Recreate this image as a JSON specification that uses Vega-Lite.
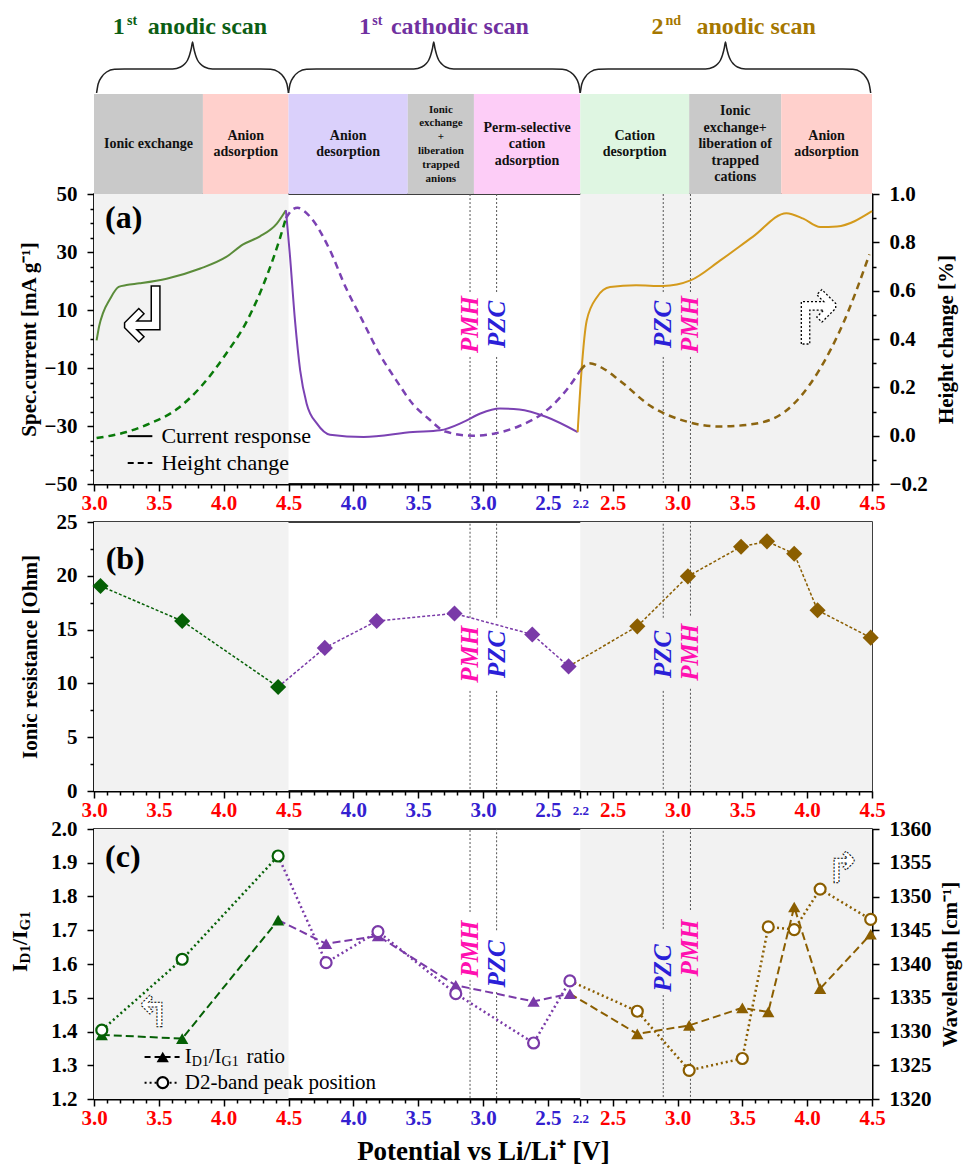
{
"$schema": "https://vega.github.io/schema/vega-lite/v6.json",
"background": "white",
"padding": {"left": 8, "top": 13, "right": 5, "bottom": 3},
"config": {
  "font": "Liberation Serif",
  "view": {"stroke": "#000", "strokeWidth": 1.5},
  "axis": {"grid": false, "domainColor": "#000", "domainWidth": 2, "tickColor": "#000", "tickWidth": 1.5, "tickSize": 7, "labelFont": "Liberation Serif", "labelFontWeight": "bold", "labelFontSize": 21, "labelColor": "#000", "titleFont": "Liberation Serif", "titleFontWeight": "bold", "titleFontSize": 21, "titleColor": "#000", "labelOverlap": false, "labelFlush": false},
  "axisX": {"labelPadding": 1},
  "axisY": {"labelPadding": 10}
},
"datasets": {
  "shade": [{"pos": 0, "pos2": 1.5}, {"pos": 3.75, "pos2": 6}],
  "boxes": [
    {"phase": "p1", "pos": 0, "pos2": 0.84},
    {"phase": "p2", "pos": 0.84, "pos2": 1.5},
    {"phase": "p3", "pos": 1.5, "pos2": 2.42},
    {"phase": "p4", "pos": 2.42, "pos2": 2.93},
    {"phase": "p5", "pos": 2.93, "pos2": 3.75},
    {"phase": "p6", "pos": 3.75, "pos2": 4.59},
    {"phase": "p7", "pos": 4.59, "pos2": 5.3},
    {"phase": "p8", "pos": 5.3, "pos2": 6}
  ],
  "boxtext": [
    {"phase": "p1", "pos": 0.42, "ty": 50, "text": "Ionic exchange"},
    {"phase": "p2", "pos": 1.17, "ty": 58.3, "text": "Anion\nadsorption"},
    {"phase": "p3", "pos": 1.96, "ty": 58.3, "text": "Anion\ndesorption"},
    {"phase": "p4", "pos": 2.675, "ty": 84.5, "text": "Ionic\nexchange\n+\nliberation\ntrapped\nanions"},
    {"phase": "p5", "pos": 3.34, "ty": 66.5, "text": "Perm-selective\ncation\nadsorption"},
    {"phase": "p6", "pos": 4.17, "ty": 58.3, "text": "Cation\ndesorption"},
    {"phase": "p7", "pos": 4.945, "ty": 83, "text": "Ionic\nexchange+\nliberation of\ntrapped\ncations"},
    {"phase": "p8", "pos": 5.65, "ty": 58.3, "text": "Anion\nadsorption"}
  ],
  "titles": [
    {"scan": "a1", "part": "word", "pos": 0.415, "text": "anodic scan"},
    {"scan": "a1", "part": "num", "pos": 0.238, "text": "1"},
    {"scan": "a1", "part": "sup", "pos": 0.254, "text": "st"},
    {"scan": "c1", "part": "word", "pos": 2.29, "text": "cathodic scan"},
    {"scan": "c1", "part": "num", "pos": 2.136, "text": "1"},
    {"scan": "c1", "part": "sup", "pos": 2.146, "text": "st"},
    {"scan": "a2", "part": "word", "pos": 4.646, "text": "anodic scan"},
    {"scan": "a2", "part": "num", "pos": 4.392, "text": "2"},
    {"scan": "a2", "part": "sup", "pos": 4.408, "text": "nd"}
  ],
  "braces": [
    {"scan": "a1", "pos": 0.02, "h": 101}, {"scan": "a1", "pos": 0.032, "h": 110}, {"scan": "a1", "pos": 0.059, "h": 117}, {"scan": "a1", "pos": 0.097, "h": 122}, {"scan": "a1", "pos": 0.158, "h": 124.7}, {"scan": "a1", "pos": 0.235, "h": 125},
    {"scan": "a1", "pos": 0.606, "h": 125}, {"scan": "a1", "pos": 0.668, "h": 127}, {"scan": "a1", "pos": 0.699, "h": 130}, {"scan": "a1", "pos": 0.722, "h": 134}, {"scan": "a1", "pos": 0.737, "h": 139}, {"scan": "a1", "pos": 0.751, "h": 146}, {"scan": "a1", "pos": 0.76, "h": 152},
    {"scan": "a1", "pos": 0.769, "h": 146}, {"scan": "a1", "pos": 0.783, "h": 139}, {"scan": "a1", "pos": 0.798, "h": 134}, {"scan": "a1", "pos": 0.821, "h": 130}, {"scan": "a1", "pos": 0.852, "h": 127}, {"scan": "a1", "pos": 0.914, "h": 125},
    {"scan": "a1", "pos": 1.285, "h": 125}, {"scan": "a1", "pos": 1.362, "h": 124.7}, {"scan": "a1", "pos": 1.423, "h": 122}, {"scan": "a1", "pos": 1.462, "h": 117}, {"scan": "a1", "pos": 1.488, "h": 110}, {"scan": "a1", "pos": 1.5, "h": 101},
    {"scan": "c1", "pos": 1.5, "h": 101}, {"scan": "c1", "pos": 1.512, "h": 110}, {"scan": "c1", "pos": 1.539, "h": 117}, {"scan": "c1", "pos": 1.577, "h": 122}, {"scan": "c1", "pos": 1.639, "h": 124.7}, {"scan": "c1", "pos": 1.715, "h": 125},
    {"scan": "c1", "pos": 2.466, "h": 125}, {"scan": "c1", "pos": 2.528, "h": 127}, {"scan": "c1", "pos": 2.559, "h": 130}, {"scan": "c1", "pos": 2.582, "h": 134}, {"scan": "c1", "pos": 2.597, "h": 139}, {"scan": "c1", "pos": 2.611, "h": 146}, {"scan": "c1", "pos": 2.62, "h": 152},
    {"scan": "c1", "pos": 2.629, "h": 146}, {"scan": "c1", "pos": 2.643, "h": 139}, {"scan": "c1", "pos": 2.658, "h": 134}, {"scan": "c1", "pos": 2.682, "h": 130}, {"scan": "c1", "pos": 2.712, "h": 127}, {"scan": "c1", "pos": 2.774, "h": 125},
    {"scan": "c1", "pos": 3.535, "h": 125}, {"scan": "c1", "pos": 3.612, "h": 124.7}, {"scan": "c1", "pos": 3.673, "h": 122}, {"scan": "c1", "pos": 3.712, "h": 117}, {"scan": "c1", "pos": 3.738, "h": 110}, {"scan": "c1", "pos": 3.75, "h": 101},
    {"scan": "a2", "pos": 3.75, "h": 101}, {"scan": "a2", "pos": 3.762, "h": 110}, {"scan": "a2", "pos": 3.789, "h": 117}, {"scan": "a2", "pos": 3.827, "h": 122}, {"scan": "a2", "pos": 3.889, "h": 124.7}, {"scan": "a2", "pos": 3.965, "h": 125},
    {"scan": "a2", "pos": 4.716, "h": 125}, {"scan": "a2", "pos": 4.778, "h": 127}, {"scan": "a2", "pos": 4.809, "h": 130}, {"scan": "a2", "pos": 4.832, "h": 134}, {"scan": "a2", "pos": 4.847, "h": 139}, {"scan": "a2", "pos": 4.861, "h": 146}, {"scan": "a2", "pos": 4.87, "h": 152},
    {"scan": "a2", "pos": 4.879, "h": 146}, {"scan": "a2", "pos": 4.893, "h": 139}, {"scan": "a2", "pos": 4.909, "h": 134}, {"scan": "a2", "pos": 4.932, "h": 130}, {"scan": "a2", "pos": 4.962, "h": 127}, {"scan": "a2", "pos": 5.024, "h": 125},
    {"scan": "a2", "pos": 5.775, "h": 125}, {"scan": "a2", "pos": 5.852, "h": 124.7}, {"scan": "a2", "pos": 5.913, "h": 122}, {"scan": "a2", "pos": 5.952, "h": 117}, {"scan": "a2", "pos": 5.978, "h": 110}, {"scan": "a2", "pos": 5.99, "h": 101}
  ],
  "current": [
    {"seg": "a1", "pos": 0.02, "val": -0.5}, {"seg": "a1", "pos": 0.04, "val": 4.5}, {"seg": "a1", "pos": 0.07, "val": 9.0}, {"seg": "a1", "pos": 0.12, "val": 13.5}, {"seg": "a1", "pos": 0.19, "val": 18.0}, {"seg": "a1", "pos": 0.25, "val": 18.6}, {"seg": "a1", "pos": 0.35, "val": 19.2}, {"seg": "a1", "pos": 0.56, "val": 20.8}, {"seg": "a1", "pos": 0.82, "val": 24.3}, {"seg": "a1", "pos": 1.02, "val": 28.3}, {"seg": "a1", "pos": 1.15, "val": 32.6}, {"seg": "a1", "pos": 1.28, "val": 35.4}, {"seg": "a1", "pos": 1.41, "val": 39.8}, {"seg": "a1", "pos": 1.48, "val": 44.4},
    {"seg": "c1", "pos": 1.48, "val": 44.4}, {"seg": "c1", "pos": 1.51, "val": 29.4}, {"seg": "c1", "pos": 1.55, "val": 6.4}, {"seg": "c1", "pos": 1.59, "val": -10.8}, {"seg": "c1", "pos": 1.64, "val": -22.3}, {"seg": "c1", "pos": 1.72, "val": -29.2}, {"seg": "c1", "pos": 1.82, "val": -33.0}, {"seg": "c1", "pos": 2.08, "val": -33.8}, {"seg": "c1", "pos": 2.46, "val": -32.1}, {"seg": "c1", "pos": 2.67, "val": -31.5}, {"seg": "c1", "pos": 2.85, "val": -28.6}, {"seg": "c1", "pos": 2.98, "val": -25.7}, {"seg": "c1", "pos": 3.13, "val": -24.0}, {"seg": "c1", "pos": 3.28, "val": -24.3}, {"seg": "c1", "pos": 3.49, "val": -26.9}, {"seg": "c1", "pos": 3.73, "val": -32.1},
    {"seg": "a2", "pos": 3.73, "val": -32.1}, {"seg": "a2", "pos": 3.76, "val": -10.8}, {"seg": "a2", "pos": 3.8, "val": 6.4}, {"seg": "a2", "pos": 3.88, "val": 14.5}, {"seg": "a2", "pos": 3.98, "val": 17.9}, {"seg": "a2", "pos": 4.18, "val": 18.5}, {"seg": "a2", "pos": 4.39, "val": 18.3}, {"seg": "a2", "pos": 4.6, "val": 20.2}, {"seg": "a2", "pos": 4.83, "val": 27.1}, {"seg": "a2", "pos": 5.08, "val": 35.2}, {"seg": "a2", "pos": 5.34, "val": 43.4}, {"seg": "a2", "pos": 5.47, "val": 41.5}, {"seg": "a2", "pos": 5.6, "val": 38.6}, {"seg": "a2", "pos": 5.73, "val": 38.8}, {"seg": "a2", "pos": 6.0, "val": 44.1}
  ],
  "height": [
    {"seg": "a1", "pos": 0.02, "val": -0.01}, {"seg": "a1", "pos": 0.25, "val": 0.015}, {"seg": "a1", "pos": 0.43, "val": 0.05}, {"seg": "a1", "pos": 0.64, "val": 0.11}, {"seg": "a1", "pos": 0.82, "val": 0.2}, {"seg": "a1", "pos": 1.02, "val": 0.34}, {"seg": "a1", "pos": 1.18, "val": 0.475}, {"seg": "a1", "pos": 1.33, "val": 0.657}, {"seg": "a1", "pos": 1.43, "val": 0.81}, {"seg": "a1", "pos": 1.48, "val": 0.9},
    {"seg": "c1", "pos": 1.48, "val": 0.9}, {"seg": "c1", "pos": 1.53, "val": 0.935}, {"seg": "c1", "pos": 1.57, "val": 0.943}, {"seg": "c1", "pos": 1.62, "val": 0.93}, {"seg": "c1", "pos": 1.69, "val": 0.89}, {"seg": "c1", "pos": 1.82, "val": 0.767}, {"seg": "c1", "pos": 1.94, "val": 0.615}, {"seg": "c1", "pos": 2.07, "val": 0.477}, {"seg": "c1", "pos": 2.2, "val": 0.34}, {"seg": "c1", "pos": 2.33, "val": 0.23}, {"seg": "c1", "pos": 2.46, "val": 0.13}, {"seg": "c1", "pos": 2.58, "val": 0.07}, {"seg": "c1", "pos": 2.71, "val": 0.017}, {"seg": "c1", "pos": 2.92, "val": 0.0}, {"seg": "c1", "pos": 3.1, "val": 0.01}, {"seg": "c1", "pos": 3.28, "val": 0.04}, {"seg": "c1", "pos": 3.48, "val": 0.1}, {"seg": "c1", "pos": 3.66, "val": 0.2}, {"seg": "c1", "pos": 3.75, "val": 0.27},
    {"seg": "a2", "pos": 3.75, "val": 0.27}, {"seg": "a2", "pos": 3.82, "val": 0.3}, {"seg": "a2", "pos": 3.92, "val": 0.28}, {"seg": "a2", "pos": 4.05, "val": 0.23}, {"seg": "a2", "pos": 4.3, "val": 0.12}, {"seg": "a2", "pos": 4.56, "val": 0.06}, {"seg": "a2", "pos": 4.82, "val": 0.038}, {"seg": "a2", "pos": 5.07, "val": 0.047}, {"seg": "a2", "pos": 5.33, "val": 0.1}, {"seg": "a2", "pos": 5.58, "val": 0.26}, {"seg": "a2", "pos": 5.79, "val": 0.48}, {"seg": "a2", "pos": 5.98, "val": 0.75}
  ],
  "resist": [
    {"seg": "a1", "pos": 0.05, "val": 19.05}, {"seg": "a1", "pos": 0.68, "val": 15.8}, {"seg": "a1", "pos": 1.42, "val": 9.67},
    {"seg": "c1", "pos": 1.42, "val": 9.67, "link": true}, {"seg": "c1", "pos": 1.78, "val": 13.3}, {"seg": "c1", "pos": 2.18, "val": 15.8}, {"seg": "c1", "pos": 2.78, "val": 16.5}, {"seg": "c1", "pos": 3.38, "val": 14.55}, {"seg": "c1", "pos": 3.66, "val": 11.58},
    {"seg": "a2", "pos": 3.66, "val": 11.58, "link": true}, {"seg": "a2", "pos": 4.19, "val": 15.3}, {"seg": "a2", "pos": 4.58, "val": 19.95}, {"seg": "a2", "pos": 4.99, "val": 22.7}, {"seg": "a2", "pos": 5.19, "val": 23.2}, {"seg": "a2", "pos": 5.4, "val": 22.05}, {"seg": "a2", "pos": 5.58, "val": 16.8}, {"seg": "a2", "pos": 5.99, "val": 14.25}
  ],
  "ratio": [
    {"seg": "a1", "pos": 0.06, "val": 1.39}, {"seg": "a1", "pos": 0.68, "val": 1.379}, {"seg": "a1", "pos": 1.42, "val": 1.73},
    {"seg": "c1", "pos": 1.42, "val": 1.73, "link": true}, {"seg": "c1", "pos": 1.79, "val": 1.66}, {"seg": "c1", "pos": 2.19, "val": 1.683}, {"seg": "c1", "pos": 2.79, "val": 1.537}, {"seg": "c1", "pos": 3.39, "val": 1.489}, {"seg": "c1", "pos": 3.67, "val": 1.512},
    {"seg": "a2", "pos": 3.67, "val": 1.512, "link": true}, {"seg": "a2", "pos": 4.19, "val": 1.393}, {"seg": "a2", "pos": 4.59, "val": 1.418}, {"seg": "a2", "pos": 5.0, "val": 1.47}, {"seg": "a2", "pos": 5.2, "val": 1.458}, {"seg": "a2", "pos": 5.4, "val": 1.769}, {"seg": "a2", "pos": 5.6, "val": 1.527}, {"seg": "a2", "pos": 5.99, "val": 1.688}
  ],
  "wave": [
    {"seg": "a1", "pos": 0.06, "val": 1330.2}, {"seg": "a1", "pos": 0.68, "val": 1340.7}, {"seg": "a1", "pos": 1.42, "val": 1356},
    {"seg": "c1", "pos": 1.42, "val": 1356, "link": true}, {"seg": "c1", "pos": 1.79, "val": 1340.2}, {"seg": "c1", "pos": 2.19, "val": 1344.8}, {"seg": "c1", "pos": 2.79, "val": 1335.6}, {"seg": "c1", "pos": 3.39, "val": 1328.3}, {"seg": "c1", "pos": 3.67, "val": 1337.5},
    {"seg": "a2", "pos": 3.67, "val": 1337.5, "link": true}, {"seg": "a2", "pos": 4.19, "val": 1333.0}, {"seg": "a2", "pos": 4.59, "val": 1324.25}, {"seg": "a2", "pos": 5.0, "val": 1326}, {"seg": "a2", "pos": 5.2, "val": 1345.5}, {"seg": "a2", "pos": 5.4, "val": 1345.1}, {"seg": "a2", "pos": 5.6, "val": 1351.1}, {"seg": "a2", "pos": 5.99, "val": 1346.6}
  ],
  "markers": [
    {"panel": "a", "label": "PMH", "pos": 2.9, "mid": 5, "top": 16.2, "bot": -6.2},
    {"panel": "a", "label": "PZC", "pos": 3.105, "mid": 5, "top": 16.2, "bot": -6.2},
    {"panel": "a", "label": "PZC", "pos": 4.39, "mid": 5, "top": 16.2, "bot": -6.2},
    {"panel": "a", "label": "PMH", "pos": 4.6, "mid": 5, "top": 16.2, "bot": -6.2},
    {"panel": "b", "label": "PMH", "pos": 2.9, "mid": 12.7, "top": 16.1, "bot": 9.3},
    {"panel": "b", "label": "PZC", "pos": 3.105, "mid": 12.7, "top": 16.1, "bot": 9.3},
    {"panel": "b", "label": "PZC", "pos": 4.39, "mid": 12.7, "top": 16.1, "bot": 9.3},
    {"panel": "b", "label": "PMH", "pos": 4.6, "mid": 12.9, "top": 16.3, "bot": 9.5},
    {"panel": "c", "label": "PMH", "pos": 2.9, "mid": 1.644, "top": 1.754, "bot": 1.553},
    {"panel": "c", "label": "PZC", "pos": 3.105, "mid": 1.6, "top": 1.7, "bot": 1.517},
    {"panel": "c", "label": "PZC", "pos": 4.39, "mid": 1.588, "top": 1.704, "bot": 1.508},
    {"panel": "c", "label": "PMH", "pos": 4.6, "mid": 1.647, "top": 1.76, "bot": 1.556}
  ],
  "plabels": [
    {"panel": "a", "pos": 0.085, "val": 41.7, "text": "(a)"},
    {"panel": "b", "pos": 0.09, "val": 21.6, "text": "(b)"},
    {"panel": "c", "pos": 0.085, "val": 1.917, "text": "(c)"}
  ],
  "arrows": [
    {"panel": "a", "pos": 0.377, "val": 7.2, "glyph": "↲"},
    {"panel": "a", "pos": 5.58, "val": 5.9, "glyph": "↱"},
    {"panel": "c", "pos": 0.45, "val": 1.452, "glyph": "↰"},
    {"panel": "c", "pos": 5.78, "val": 1.878, "glyph": "↱"}
  ],
  "legA": [
    {"role": "line", "kind": "cur", "pos": 0.26, "pos2": 0.45, "val": -33.5},
    {"role": "line", "kind": "hgt", "pos": 0.26, "pos2": 0.45, "val": -42.8},
    {"role": "text", "pos": 0.52, "val": -33.5, "t": "Current response"},
    {"role": "text", "pos": 0.52, "val": -42.8, "t": "Height change"}
  ],
  "legC": [
    {"role": "line", "kind": "ratio", "pos": 0.39, "pos2": 0.66, "val": 1.3244},
    {"role": "line", "kind": "wave", "pos": 0.39, "pos2": 0.66, "val": 1.2483},
    {"role": "sym", "kind": "ratio", "pos": 0.53, "val": 1.3244},
    {"role": "sym", "kind": "wave", "pos": 0.53, "val": 1.2483},
    {"role": "main", "pos": 0.7, "val": 1.3244, "t": "I"},
    {"role": "sub", "pos": 0.754, "val": 1.3244, "t": "D1"},
    {"role": "main", "pos": 0.885, "val": 1.3244, "t": "/I"},
    {"role": "sub", "pos": 0.984, "val": 1.3244, "t": "G1"},
    {"role": "main", "pos": 1.177, "val": 1.3244, "t": "ratio"},
    {"role": "main", "pos": 0.7, "val": 1.2483, "t": "D2-band peak position"}
  ],
  "ytitleC": [
    {"role": "main", "pos": -0.515, "val": 1.5763, "t": "I"},
    {"role": "sub", "pos": -0.515, "val": 1.6018, "t": "D1"},
    {"role": "main", "pos": -0.515, "val": 1.656, "t": "/I"},
    {"role": "sub", "pos": -0.515, "val": 1.6996, "t": "G1"}
  ]
},
"spacing": -4,
"vconcat": [
  {
    "width": 778,
    "height": 290,
    "encoding": {"x": {"field": "pos", "type": "quantitative", "scale": {"domain": [0, 6], "nice": false, "zero": false},
      "axis": {"title": null, "values": [0,0.1,0.2,0.3,0.4,0.5,0.6,0.7,0.8,0.9,1,1.1,1.2,1.3,1.4,1.5,1.6,1.7,1.8,1.9,2,2.1,2.2,2.3,2.4,2.5,2.6,2.7,2.8,2.9,3,3.1,3.2,3.3,3.4,3.5,3.6,3.7,3.75,3.8,3.9,4,4.1,4.2,4.3,4.4,4.5,4.6,4.7,4.8,4.9,5,5.1,5.2,5.3,5.4,5.5,5.6,5.7,5.8,5.9,6],
        "labelExpr": "(datum.value*2)%1 > 0.01 && datum.value != 3.75 ? '' : datum.value == 3.75 ? '2.2' : datum.value <= 1.5 ? format(3 + datum.value, '.1f') : datum.value <= 3.5 ? format(6 - datum.value, '.1f') : format(datum.value - 1.5, '.1f')",
        "labelColor": {"condition": {"test": "datum.value > 1.6 && datum.value < 3.9", "value": "#3420d0"}, "value": "#ff0000"},
        "labelFontSize": {"condition": {"test": "datum.value == 3.75", "value": 13}, "value": 21},
        "labelPadding": {"condition": {"test": "datum.value == 3.75", "value": 6}, "value": 1},
        "tickSize": {"condition": {"test": "(datum.value*2)%1 > 0.01 && datum.value != 3.75", "value": 4}, "value": 7}}}},
    "layer": [
      {"data": {"name": "shade"}, "mark": {"type": "rect", "color": "#f2f2f2"}, "encoding": {"x2": {"field": "pos2"}}},
      {"data": {"name": "boxes"}, "mark": {"type": "rect"},
       "encoding": {
         "x2": {"field": "pos2"},
         "y": {"datum": 0, "type": "quantitative", "scale": {"domain": [-290, 0], "nice": false, "zero": false}, "axis": null},
         "y2": {"datum": 100},
         "color": {"field": "phase", "type": "nominal", "scale": {"domain": ["p1","p2","p3","p4","p5","p6","p7","p8"], "range": ["#c9c9c9","#ffd0cc","#dad0fb","#c9c9c9","#fdcdf7","#dff6e2","#c9c9c9","#ffd0cc"]}, "legend": null}
       }},
      {"data": {"name": "boxtext"}, "transform": [{"filter": "datum.phase != 'p4'"}],
       "mark": {"type": "text", "font": "Liberation Serif", "fontSize": 14, "fontWeight": "bold", "color": "#111", "lineBreak": "\n", "lineHeight": 16.5, "align": "center", "baseline": "middle"},
       "encoding": {
         "y": {"field": "ty", "type": "quantitative", "scale": {"domain": [-290, 0], "nice": false, "zero": false}, "axis": null},
         "text": {"field": "text"}
       }},
      {"data": {"name": "boxtext"}, "transform": [{"filter": "datum.phase == 'p4'"}],
       "mark": {"type": "text", "font": "Liberation Serif", "fontSize": 11, "fontWeight": "bold", "color": "#111", "lineBreak": "\n", "lineHeight": 13.8, "align": "center", "baseline": "middle"},
       "encoding": {
         "y": {"field": "ty", "type": "quantitative", "scale": {"domain": [-290, 0], "nice": false, "zero": false}, "axis": null},
         "text": {"field": "text"}
       }},
      {"data": {"name": "braces"}, "mark": {"type": "line", "color": "#222", "strokeWidth": 1.5, "interpolate": "monotone"},
       "encoding": {
         "y": {"field": "h", "type": "quantitative", "scale": {"domain": [-290, 0], "nice": false, "zero": false}, "axis": null},
         "detail": {"field": "scan"}
       }},
      {"data": {"name": "titles"}, "transform": [{"filter": "datum.part == 'word'"}],
       "mark": {"type": "text", "font": "Liberation Serif", "fontSize": 24, "fontWeight": "bold", "align": "left", "baseline": "middle"},
       "encoding": {
         "y": {"datum": 167, "type": "quantitative", "scale": {"domain": [-290, 0], "nice": false, "zero": false}, "axis": null},
         "text": {"field": "text"},
         "color": {"field": "scan", "type": "nominal", "scale": {"domain": ["a1","c1","a2"], "range": ["#0c5e14","#7030a0","#a57700"]}, "legend": null}
       }},
      {"data": {"name": "titles"}, "transform": [{"filter": "datum.part == 'num'"}],
       "mark": {"type": "text", "font": "Liberation Serif", "fontSize": 24, "fontWeight": "bold", "align": "right", "baseline": "middle"},
       "encoding": {
         "y": {"datum": 167, "type": "quantitative", "scale": {"domain": [-290, 0], "nice": false, "zero": false}, "axis": null},
         "text": {"field": "text"},
         "color": {"field": "scan", "type": "nominal", "scale": {"domain": ["a1","c1","a2"], "range": ["#0c5e14","#7030a0","#a57700"]}, "legend": null}
       }},
      {"data": {"name": "titles"}, "transform": [{"filter": "datum.part == 'sup'"}],
       "mark": {"type": "text", "font": "Liberation Serif", "fontSize": 14, "fontWeight": "bold", "align": "left", "baseline": "middle"},
       "encoding": {
         "y": {"datum": 173, "type": "quantitative", "scale": {"domain": [-290, 0], "nice": false, "zero": false}, "axis": null},
         "text": {"field": "text"},
         "color": {"field": "scan", "type": "nominal", "scale": {"domain": ["a1","c1","a2"], "range": ["#0c5e14","#7030a0","#a57700"]}, "legend": null}
       }},
      {"data": {"name": "markers"}, "transform": [{"filter": "datum.panel == 'a'"}],
       "mark": {"type": "rule", "color": "#555", "strokeDash": [2, 2], "strokeWidth": 1},
       "encoding": {"y": {"field": "top", "type": "quantitative", "scale": {"domain": [-50, 50]}, "axis": null}, "y2": {"datum": 50}}},
      {"data": {"name": "markers"}, "transform": [{"filter": "datum.panel == 'a'"}],
       "mark": {"type": "rule", "color": "#555", "strokeDash": [2, 2], "strokeWidth": 1},
       "encoding": {"y": {"field": "bot", "type": "quantitative", "scale": {"domain": [-50, 50]}, "axis": null}, "y2": {"datum": -50}}},
      {"data": {"name": "markers"}, "transform": [{"filter": "datum.panel == 'a'"}],
       "mark": {"type": "text", "angle": 270, "font": "Liberation Serif", "fontSize": 25, "fontWeight": "bold", "fontStyle": "italic", "align": "center", "baseline": "middle"},
       "encoding": {"y": {"field": "mid", "type": "quantitative", "scale": {"domain": [-50, 50]}, "axis": null}, "text": {"field": "label"},
         "color": {"condition": {"test": "datum.label == 'PMH'", "value": "#ff10b0"}, "value": "#2a1fd8"}}},
      {"data": {"name": "current"}, "mark": {"type": "line", "strokeWidth": 2, "interpolate": "monotone"},
       "encoding": {
         "y": {"field": "val", "type": "quantitative", "scale": {"domain": [-50, 50]},
           "axis": {"title": "Spec.current [mA g⁻¹]", "titlePadding": 5, "values": [-50,-45,-40,-35,-30,-25,-20,-15,-10,-5,0,5,10,15,20,25,30,35,40,45,50],
             "labelExpr": "(datum.value + 50) % 20 == 0 ? datum.label : ''",
             "tickSize": {"condition": {"test": "(datum.value + 50) % 20 != 0", "value": 4}, "value": 7}}},
         "color": {"field": "seg", "type": "nominal", "scale": {"domain": ["a1","c1","a2"], "range": ["#5b8c3a","#7b42b3","#d49a1c"]}, "legend": null}
       }},
      {"data": {"name": "height"}, "mark": {"type": "line", "strokeWidth": 2.5, "strokeDash": [7, 5], "interpolate": "monotone"},
       "encoding": {
         "y": {"field": "val", "type": "quantitative", "scale": {"domain": [-0.2, 1.0]},
           "axis": {"orient": "right", "title": "Height change [%]", "titleAngle": 270, "titleBaseline": "top", "titlePadding": 8,
             "values": [-0.2,-0.1,0,0.1,0.2,0.3,0.4,0.5,0.6,0.7,0.8,0.9,1],
             "labelExpr": "abs(round(datum.value*10)) % 2 == 0 ? format(datum.value, '.1f') : ''",
             "tickSize": {"condition": {"test": "abs(round(datum.value*10)) % 2 == 1", "value": 4}, "value": 7}}},
         "color": {"field": "seg", "type": "nominal", "scale": {"domain": ["a1","c1","a2"], "range": ["#0a7a0a","#7b42b3","#8c6510"]}, "legend": null}
       }},
      {"data": {"name": "legA"}, "transform": [{"filter": "datum.kind == 'cur'"}],
       "mark": {"type": "rule", "color": "#000", "strokeWidth": 2},
       "encoding": {"x2": {"field": "pos2"}, "y": {"field": "val", "type": "quantitative", "scale": {"domain": [-50, 50]}, "axis": null}}},
      {"data": {"name": "legA"}, "transform": [{"filter": "datum.kind == 'hgt'"}],
       "mark": {"type": "rule", "color": "#000", "strokeWidth": 2, "strokeDash": [6, 4]},
       "encoding": {"x2": {"field": "pos2"}, "y": {"field": "val", "type": "quantitative", "scale": {"domain": [-50, 50]}, "axis": null}}},
      {"data": {"name": "legA"}, "transform": [{"filter": "datum.role == 'text'"}],
       "mark": {"type": "text", "font": "Liberation Serif", "fontSize": 22, "color": "#000", "align": "left", "baseline": "middle"},
       "encoding": {"y": {"field": "val", "type": "quantitative", "scale": {"domain": [-50, 50]}, "axis": null}, "text": {"field": "t"}}},
      {"data": {"name": "plabels"}, "transform": [{"filter": "datum.panel == 'a'"}],
       "mark": {"type": "text", "font": "Liberation Serif", "fontSize": 32, "fontWeight": "bold", "color": "#000", "align": "left", "baseline": "middle"},
       "encoding": {"y": {"field": "val", "type": "quantitative", "scale": {"domain": [-50, 50]}, "axis": null}, "text": {"field": "text"}}},
      {"data": {"name": "arrows"}, "transform": [{"filter": "datum.panel == 'a' && datum.glyph == '↲'"}],
       "mark": {"type": "text", "font": "DejaVu Sans", "fontSize": 74, "fontWeight": "bold", "fill": "white", "stroke": "#000", "strokeWidth": 1.5, "align": "center", "baseline": "middle"},
       "encoding": {"y": {"field": "val", "type": "quantitative", "scale": {"domain": [-50, 50]}, "axis": null}, "text": {"field": "glyph"}}},
      {"data": {"name": "arrows"}, "transform": [{"filter": "datum.panel == 'a' && datum.glyph == '↱'"}],
       "mark": {"type": "text", "font": "DejaVu Sans", "fontSize": 72, "fontWeight": "bold", "fill": "white", "stroke": "#000", "strokeWidth": 1.3, "strokeDash": [2, 2], "align": "center", "baseline": "middle"},
       "encoding": {"y": {"field": "val", "type": "quantitative", "scale": {"domain": [-50, 50]}, "axis": null}, "text": {"field": "glyph"}}}
    ],
    "resolve": {"scale": {"y": "independent", "color": "independent"}}
  },
  {
    "width": 778,
    "height": 269,
    "encoding": {"x": {"field": "pos", "type": "quantitative", "scale": {"domain": [0, 6], "nice": false, "zero": false},
      "axis": {"title": null, "values": [0,0.1,0.2,0.3,0.4,0.5,0.6,0.7,0.8,0.9,1,1.1,1.2,1.3,1.4,1.5,1.6,1.7,1.8,1.9,2,2.1,2.2,2.3,2.4,2.5,2.6,2.7,2.8,2.9,3,3.1,3.2,3.3,3.4,3.5,3.6,3.7,3.75,3.8,3.9,4,4.1,4.2,4.3,4.4,4.5,4.6,4.7,4.8,4.9,5,5.1,5.2,5.3,5.4,5.5,5.6,5.7,5.8,5.9,6],
        "labelExpr": "(datum.value*2)%1 > 0.01 && datum.value != 3.75 ? '' : datum.value == 3.75 ? '2.2' : datum.value <= 1.5 ? format(3 + datum.value, '.1f') : datum.value <= 3.5 ? format(6 - datum.value, '.1f') : format(datum.value - 1.5, '.1f')",
        "labelColor": {"condition": {"test": "datum.value > 1.6 && datum.value < 3.9", "value": "#3420d0"}, "value": "#ff0000"},
        "labelFontSize": {"condition": {"test": "datum.value == 3.75", "value": 13}, "value": 21},
        "labelPadding": {"condition": {"test": "datum.value == 3.75", "value": 6}, "value": 1},
        "tickSize": {"condition": {"test": "(datum.value*2)%1 > 0.01 && datum.value != 3.75", "value": 4}, "value": 7}}}},
    "layer": [
      {"data": {"name": "shade"}, "mark": {"type": "rect", "color": "#f2f2f2"}, "encoding": {"x2": {"field": "pos2"}}},
      {"data": {"name": "markers"}, "transform": [{"filter": "datum.panel == 'b'"}],
       "mark": {"type": "rule", "color": "#555", "strokeDash": [2, 2], "strokeWidth": 1},
       "encoding": {"y": {"field": "top", "type": "quantitative", "scale": {"domain": [0, 25]}, "axis": null}, "y2": {"datum": 25}}},
      {"data": {"name": "markers"}, "transform": [{"filter": "datum.panel == 'b'"}],
       "mark": {"type": "rule", "color": "#555", "strokeDash": [2, 2], "strokeWidth": 1},
       "encoding": {"y": {"field": "bot", "type": "quantitative", "scale": {"domain": [0, 25]}, "axis": null}, "y2": {"datum": 0}}},
      {"data": {"name": "markers"}, "transform": [{"filter": "datum.panel == 'b'"}],
       "mark": {"type": "text", "angle": 270, "font": "Liberation Serif", "fontSize": 25, "fontWeight": "bold", "fontStyle": "italic", "align": "center", "baseline": "middle"},
       "encoding": {"y": {"field": "mid", "type": "quantitative", "scale": {"domain": [0, 25]}, "axis": null}, "text": {"field": "label"},
         "color": {"condition": {"test": "datum.label == 'PMH'", "value": "#ff10b0"}, "value": "#2a1fd8"}}},
      {"data": {"name": "resist"}, "mark": {"type": "line", "strokeWidth": 1.5, "strokeDash": [3, 2]},
       "encoding": {
         "y": {"field": "val", "type": "quantitative", "scale": {"domain": [0, 25]},
           "axis": {"title": "Ionic resistance [Ohm]", "titlePadding": 16, "values": [0,2.5,5,7.5,10,12.5,15,17.5,20,22.5,25],
             "labelExpr": "datum.value % 5 == 0 ? datum.label : ''",
             "tickSize": {"condition": {"test": "datum.value % 5 != 0", "value": 4}, "value": 7}}},
         "color": {"field": "seg", "type": "nominal", "scale": {"domain": ["a1","c1","a2"], "range": ["#056005","#7a3aa8","#8b5e00"]}, "legend": null}
       }},
      {"data": {"name": "resist"}, "transform": [{"filter": "!datum.link"}],
       "mark": {"type": "point", "shape": "diamond", "filled": true, "size": 260, "opacity": 1},
       "encoding": {
         "y": {"field": "val", "type": "quantitative", "scale": {"domain": [0, 25]}, "axis": null},
         "color": {"field": "seg", "type": "nominal", "scale": {"domain": ["a1","c1","a2"], "range": ["#056005","#7a3aa8","#8b5e00"]}, "legend": null}
       }},
      {"data": {"name": "plabels"}, "transform": [{"filter": "datum.panel == 'b'"}],
       "mark": {"type": "text", "font": "Liberation Serif", "fontSize": 32, "fontWeight": "bold", "color": "#000", "align": "left", "baseline": "middle"},
       "encoding": {"y": {"field": "val", "type": "quantitative", "scale": {"domain": [0, 25]}, "axis": null}, "text": {"field": "text"}}}
    ],
    "resolve": {"scale": {"y": "independent"}}
  },
  {
    "width": 778,
    "height": 270,
    "encoding": {"x": {"field": "pos", "type": "quantitative", "scale": {"domain": [0, 6], "nice": false, "zero": false},
      "axis": {"title": "Potential vs Li/Li⁺ [V]", "titleFontSize": 27, "titlePadding": 10, "values": [0,0.1,0.2,0.3,0.4,0.5,0.6,0.7,0.8,0.9,1,1.1,1.2,1.3,1.4,1.5,1.6,1.7,1.8,1.9,2,2.1,2.2,2.3,2.4,2.5,2.6,2.7,2.8,2.9,3,3.1,3.2,3.3,3.4,3.5,3.6,3.7,3.75,3.8,3.9,4,4.1,4.2,4.3,4.4,4.5,4.6,4.7,4.8,4.9,5,5.1,5.2,5.3,5.4,5.5,5.6,5.7,5.8,5.9,6],
        "labelExpr": "(datum.value*2)%1 > 0.01 && datum.value != 3.75 ? '' : datum.value == 3.75 ? '2.2' : datum.value <= 1.5 ? format(3 + datum.value, '.1f') : datum.value <= 3.5 ? format(6 - datum.value, '.1f') : format(datum.value - 1.5, '.1f')",
        "labelColor": {"condition": {"test": "datum.value > 1.6 && datum.value < 3.9", "value": "#3420d0"}, "value": "#ff0000"},
        "labelFontSize": {"condition": {"test": "datum.value == 3.75", "value": 13}, "value": 21},
        "labelPadding": {"condition": {"test": "datum.value == 3.75", "value": 6}, "value": 1},
        "tickSize": {"condition": {"test": "(datum.value*2)%1 > 0.01 && datum.value != 3.75", "value": 4}, "value": 7}}}},
    "layer": [
      {"data": {"name": "shade"}, "mark": {"type": "rect", "color": "#f2f2f2"}, "encoding": {"x2": {"field": "pos2"}}},
      {"data": {"name": "markers"}, "transform": [{"filter": "datum.panel == 'c'"}],
       "mark": {"type": "rule", "color": "#555", "strokeDash": [2, 2], "strokeWidth": 1},
       "encoding": {"y": {"field": "top", "type": "quantitative", "scale": {"domain": [1.2, 2.0]}, "axis": null}, "y2": {"datum": 2.0}}},
      {"data": {"name": "markers"}, "transform": [{"filter": "datum.panel == 'c'"}],
       "mark": {"type": "rule", "color": "#555", "strokeDash": [2, 2], "strokeWidth": 1},
       "encoding": {"y": {"field": "bot", "type": "quantitative", "scale": {"domain": [1.2, 2.0]}, "axis": null}, "y2": {"datum": 1.2}}},
      {"data": {"name": "markers"}, "transform": [{"filter": "datum.panel == 'c'"}],
       "mark": {"type": "text", "angle": 270, "font": "Liberation Serif", "fontSize": 25, "fontWeight": "bold", "fontStyle": "italic", "align": "center", "baseline": "middle"},
       "encoding": {"y": {"field": "mid", "type": "quantitative", "scale": {"domain": [1.2, 2.0]}, "axis": null}, "text": {"field": "label"},
         "color": {"condition": {"test": "datum.label == 'PMH'", "value": "#ff10b0"}, "value": "#2a1fd8"}}},
      {"data": {"name": "ratio"}, "mark": {"type": "line", "strokeWidth": 2, "strokeDash": [8, 4]},
       "encoding": {
         "y": {"field": "val", "type": "quantitative", "scale": {"domain": [1.2, 2.0]},
           "axis": {"title": null, "values": [1.2,1.3,1.4,1.5,1.6,1.7,1.8,1.9,2.0], "format": ".1f"}},
         "color": {"field": "seg", "type": "nominal", "scale": {"domain": ["a1","c1","a2"], "range": ["#1b7a1b","#7030a0","#9a6a00"]}, "legend": null}
       }},
      {"data": {"name": "ratio"}, "transform": [{"filter": "!datum.link"}],
       "mark": {"type": "point", "shape": "triangle-up", "filled": true, "size": 150, "opacity": 1},
       "encoding": {
         "y": {"field": "val", "type": "quantitative", "scale": {"domain": [1.2, 2.0]}, "axis": null},
         "color": {"field": "seg", "type": "nominal", "scale": {"domain": ["a1","c1","a2"], "range": ["#1b7a1b","#7030a0","#9a6a00"]}, "legend": null}
       }},
      {"data": {"name": "wave"}, "mark": {"type": "line", "strokeWidth": 2.5, "strokeDash": [2, 3]},
       "encoding": {
         "y": {"field": "val", "type": "quantitative", "scale": {"domain": [1320, 1360]},
           "axis": {"orient": "right", "title": "Wavelength [cm⁻¹]", "titleAngle": 270, "titleBaseline": "top", "titlePadding": 8, "format": "d", "values": [1320,1325,1330,1335,1340,1345,1350,1355,1360]}},
         "color": {"field": "seg", "type": "nominal", "scale": {"domain": ["a1","c1","a2"], "range": ["#1b7a1b","#7030a0","#9a6a00"]}, "legend": null}
       }},
      {"data": {"name": "wave"}, "transform": [{"filter": "!datum.link"}],
       "mark": {"type": "point", "shape": "circle", "filled": false, "fill": "white", "strokeWidth": 2.2, "size": 120, "opacity": 1},
       "encoding": {
         "y": {"field": "val", "type": "quantitative", "scale": {"domain": [1320, 1360]}, "axis": null},
         "color": {"field": "seg", "type": "nominal", "scale": {"domain": ["a1","c1","a2"], "range": ["#1b7a1b","#7030a0","#9a6a00"]}, "legend": null}
       }},
      {"data": {"name": "legC"}, "transform": [{"filter": "datum.role == 'line' && datum.kind == 'ratio'"}],
       "mark": {"type": "rule", "color": "#000", "strokeWidth": 2, "strokeDash": [6, 4]},
       "encoding": {"x2": {"field": "pos2"}, "y": {"field": "val", "type": "quantitative", "scale": {"domain": [1.2, 2.0]}, "axis": null}}},
      {"data": {"name": "legC"}, "transform": [{"filter": "datum.role == 'line' && datum.kind == 'wave'"}],
       "mark": {"type": "rule", "color": "#000", "strokeWidth": 2, "strokeDash": [2, 3]},
       "encoding": {"x2": {"field": "pos2"}, "y": {"field": "val", "type": "quantitative", "scale": {"domain": [1.2, 2.0]}, "axis": null}}},
      {"data": {"name": "legC"}, "transform": [{"filter": "datum.role == 'sym' && datum.kind == 'ratio'"}],
       "mark": {"type": "point", "shape": "triangle-up", "filled": true, "size": 150, "color": "#000", "opacity": 1},
       "encoding": {"y": {"field": "val", "type": "quantitative", "scale": {"domain": [1.2, 2.0]}, "axis": null}}},
      {"data": {"name": "legC"}, "transform": [{"filter": "datum.role == 'sym' && datum.kind == 'wave'"}],
       "mark": {"type": "point", "shape": "circle", "filled": false, "fill": "white", "stroke": "#000", "strokeWidth": 2.2, "size": 120, "opacity": 1},
       "encoding": {"y": {"field": "val", "type": "quantitative", "scale": {"domain": [1.2, 2.0]}, "axis": null}}},
      {"data": {"name": "legC"}, "transform": [{"filter": "datum.role == 'main'"}],
       "mark": {"type": "text", "font": "Liberation Serif", "fontSize": 21, "color": "#000", "align": "left", "baseline": "middle"},
       "encoding": {"y": {"field": "val", "type": "quantitative", "scale": {"domain": [1.2, 2.0]}, "axis": null}, "text": {"field": "t"}}},
      {"data": {"name": "legC"}, "transform": [{"filter": "datum.role == 'sub'"}],
       "mark": {"type": "text", "font": "Liberation Serif", "fontSize": 14, "color": "#000", "align": "left", "baseline": "middle", "dy": 5},
       "encoding": {"y": {"field": "val", "type": "quantitative", "scale": {"domain": [1.2, 2.0]}, "axis": null}, "text": {"field": "t"}}},
      {"data": {"name": "ytitleC"}, "transform": [{"filter": "datum.role == 'main'"}],
       "mark": {"type": "text", "angle": 270, "font": "Liberation Serif", "fontSize": 22, "fontWeight": "bold", "color": "#000", "align": "left", "baseline": "alphabetic"},
       "encoding": {"y": {"field": "val", "type": "quantitative", "scale": {"domain": [1.2, 2.0]}, "axis": null}, "text": {"field": "t"}}},
      {"data": {"name": "ytitleC"}, "transform": [{"filter": "datum.role == 'sub'"}],
       "mark": {"type": "text", "angle": 270, "font": "Liberation Serif", "fontSize": 15, "fontWeight": "bold", "color": "#000", "align": "left", "baseline": "alphabetic", "dy": 3},
       "encoding": {"y": {"field": "val", "type": "quantitative", "scale": {"domain": [1.2, 2.0]}, "axis": null}, "text": {"field": "t"}}},
      {"data": {"name": "plabels"}, "transform": [{"filter": "datum.panel == 'c'"}],
       "mark": {"type": "text", "font": "Liberation Serif", "fontSize": 32, "fontWeight": "bold", "color": "#000", "align": "left", "baseline": "middle"},
       "encoding": {"y": {"field": "val", "type": "quantitative", "scale": {"domain": [1.2, 2.0]}, "axis": null}, "text": {"field": "text"}}},
      {"data": {"name": "arrows"}, "transform": [{"filter": "datum.panel == 'c'"}],
       "mark": {"type": "text", "font": "DejaVu Sans", "fontSize": 42, "fontWeight": "bold", "fill": "white", "stroke": "#000", "strokeWidth": 1, "strokeDash": [2, 1.5], "align": "center", "baseline": "middle"},
       "encoding": {"y": {"field": "val", "type": "quantitative", "scale": {"domain": [1.2, 2.0]}, "axis": null}, "text": {"field": "glyph"}}}
    ],
    "resolve": {"scale": {"y": "independent"}}
  }
]
}
